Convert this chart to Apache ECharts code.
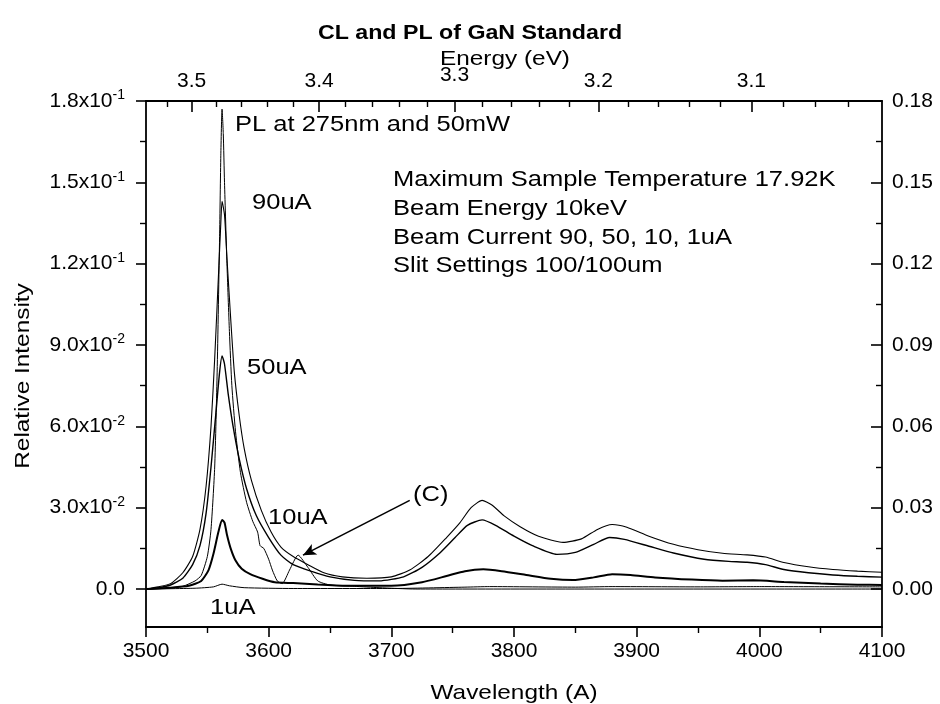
<!DOCTYPE html>
<html>
<head>
<meta charset="utf-8">
<script src="https://cdn.jsdelivr.net/npm/echarts@6/dist/echarts.min.js"></script>
<style>
  html, body { margin: 0; padding: 0; background: #fff; }
  #main { width: 940px; height: 704px; }
</style>
</head>
<body>
<div id="main"></div>
<script>
var chartDom = document.getElementById('main');
var myChart = echarts.init(chartDom);
var option;

// ---- data: [wavelength (A), relative intensity] ----
var pl = [[3500,0],[3520,0.0005],[3530,0.001],[3540,0.003],[3545,0.005],[3550,0.012],[3553,0.022],
  [3556,0.045],[3558,0.08],[3560,0.13],[3561,0.16],[3562,0.177],[3563,0.168],[3564,0.15],[3566,0.12],
  [3568,0.095],[3570,0.075],[3573,0.058],[3577,0.043],[3582,0.032],[3587,0.025],[3591,0.021],[3593,0.016],
  [3596,0.015],[3600,0.011],[3603,0.007],[3607,0.003],[3611,0.002],[3617,0.007],[3624,0.0125],[3632,0.008],
  [3640,0.003],[3650,0.0015],[3670,0.001],[3690,0.0005],[3720,0],[4100,0]];

var cl90 = [[3500,0],[3510,0.0008],[3520,0.002],[3530,0.006],[3538,0.012],[3544,0.022],[3549,0.038],
  [3553,0.06],[3556,0.085],[3559,0.115],[3561,0.135],[3562,0.143],[3564,0.138],[3566,0.122],[3569,0.1],
  [3572,0.08],[3576,0.064],[3580,0.052],[3586,0.04],[3594,0.029],[3602,0.021],[3610,0.0155],[3620,0.012],
  [3632,0.009],[3645,0.006],[3660,0.0045],[3680,0.004],[3700,0.0045],[3715,0.007],[3730,0.012],[3745,0.019],
  [3756,0.0245],[3765,0.03],[3774,0.0327],[3782,0.031],[3792,0.027],[3805,0.023],[3820,0.0195],[3840,0.0172],
  [3855,0.0185],[3868,0.022],[3880,0.0238],[3892,0.0228],[3910,0.0195],[3930,0.0165],[3950,0.0145],
  [3970,0.0132],[3990,0.0126],[4005,0.0118],[4020,0.0098],[4040,0.0082],[4060,0.0072],[4080,0.0066],[4100,0.0062]];

var cl50 = [[3500,0],[3510,0.0005],[3520,0.0015],[3530,0.004],[3538,0.009],[3544,0.016],[3549,0.028],
  [3553,0.045],[3557,0.065],[3560,0.08],[3562,0.086],[3564,0.083],[3567,0.072],[3571,0.06],[3576,0.048],
  [3582,0.037],[3590,0.027],[3600,0.019],[3610,0.0125],[3620,0.009],[3635,0.0065],[3650,0.0045],[3670,0.0032],
  [3690,0.003],[3710,0.0045],[3725,0.008],[3740,0.0135],[3752,0.019],[3762,0.0235],[3774,0.0255],[3785,0.0235],
  [3800,0.0195],[3815,0.016],[3835,0.0128],[3850,0.0135],[3865,0.0165],[3878,0.019],[3890,0.0183],[3910,0.0158],
  [3930,0.0133],[3955,0.011],[3975,0.0102],[3990,0.0099],[4005,0.009],[4020,0.0072],[4040,0.006],[4060,0.0052],
  [4080,0.0047],[4100,0.0044]];

var cl10 = [[3500,0],[3520,0.0005],[3535,0.0012],[3545,0.003],[3551,0.007],[3555,0.013],[3559,0.021],
  [3562,0.0255],[3564,0.0245],[3566,0.02],[3569,0.015],[3573,0.0105],[3578,0.0075],[3585,0.0055],[3595,0.0038],
  [3605,0.0025],[3620,0.0022],[3640,0.0017],[3665,0.0012],[3700,0.0012],[3725,0.0025],[3745,0.0048],[3760,0.0066],
  [3775,0.0073],[3790,0.0066],[3810,0.0052],[3830,0.0038],[3848,0.0033],[3865,0.0043],[3880,0.0055],[3895,0.0052],
  [3915,0.0043],[3945,0.0035],[3970,0.0031],[3995,0.0032],[4020,0.0026],[4050,0.002],[4080,0.0016],[4100,0.0015]];

var cl1 = [[3500,0],[3540,0.0003],[3555,0.0008],[3562,0.0018],[3568,0.0012],[3580,0.0005],[3620,0.0002],
  [3700,0.0002],[3760,0.0007],[3780,0.0009],[3850,0.0007],[3880,0.0009],[3950,0.0008],[4000,0.0009],[4100,0.0008]];

// ---- ticks ----
var yMajor = [0, 0.03, 0.06, 0.09, 0.12, 0.15, 0.18];
var yMinor = [0.015, 0.045, 0.075, 0.105, 0.135, 0.165];
var leftMant = ['0.0', '3.0', '6.0', '9.0', '1.2', '1.5', '1.8'];
var leftExp = ['', '-2', '-2', '-2', '-1', '-1', '-1'];
var rightLabels = ['0.00', '0.03', '0.06', '0.09', '0.12', '0.15', '0.18'];
var eMajor = [3.5, 3.4, 3.3, 3.2, 3.1];
var eMinor = [3.54, 3.52, 3.48, 3.46, 3.44, 3.42, 3.38, 3.36, 3.34, 3.32, 3.28, 3.26, 3.24, 3.22,
  3.18, 3.16, 3.14, 3.12, 3.08, 3.06, 3.04];
var HC = 12380; // eV*A, as the original top axis is laid out

var FONT = 'Liberation Sans, Arial, sans-serif';
var black = '#000';
var WIDE = 1.16; // the scanned lettering is wider than plain Arial

function eToL(e) { return HC / e; }

function idxOf(arr, v) {
  for (var i = 0; i < arr.length; i++) { if (Math.abs(arr[i] - v) < 1e-6) return i; }
  return -1;
}

var yBase = { type: 'value', min: -0.014, max: 0.18, splitLine: { show: false } };
var frame = { show: true, onZero: false, lineStyle: { color: black, width: 1.8 } };

function note(x, y, text, font, align, rot) {
  return { type: 'text', x: x, y: y, scaleX: WIDE, rotation: rot || 0,
    style: { text: text, font: font, fill: black, align: align || 'left', verticalAlign: 'middle' } };
}

option = {
  animation: false,
  backgroundColor: '#fff',
  grid: { left: 146, right: 58, top: 101, bottom: 77 },
  xAxis: [
    {
      type: 'value', min: 3500, max: 4100, interval: 100, position: 'bottom',
      axisLine: frame,
      axisTick: { show: true, inside: false, length: 10, lineStyle: { color: black, width: 1.6 } },
      minorTick: { show: true, splitNumber: 2, length: 6, lineStyle: { color: black, width: 1.4 } },
      axisLabel: { fontFamily: FONT, fontSize: 21, color: black, margin: 14,
        formatter: function (v) { return String(v); } },
      splitLine: { show: false }
    },
    {
      type: 'value', min: 3500, max: 4100, position: 'top',
      axisLine: frame,
      axisTick: { show: true, inside: true, length: 11, customValues: eMajor.map(eToL),
        lineStyle: { color: black, width: 1.6 } },
      axisLabel: {
        color: black, margin: 9,
        customValues: eMajor.map(eToL),
        formatter: function (v) {
          var s = (HC / v).toFixed(1);
          return s === '3.3' ? '{up|' + s + '}' : '{n|' + s + '}';
        },
        rich: {
          n: { fontFamily: FONT, fontSize: 21, color: black },
          up: { fontFamily: FONT, fontSize: 21, color: black, padding: [0, 0, 6, 0] }
        }
      },
      splitLine: { show: false }
    },
    {
      type: 'value', min: 3500, max: 4100, position: 'top',
      axisLine: { show: false, onZero: false },
      axisTick: { show: true, inside: true, length: 6, customValues: eMinor.map(eToL),
        lineStyle: { color: black, width: 1.4 } },
      axisLabel: { show: false },
      splitLine: { show: false }
    }
  ],
  yAxis: [
    Object.assign({}, yBase, {
      position: 'left',
      axisLine: frame,
      axisTick: { show: true, inside: false, length: 10, customValues: yMajor,
        lineStyle: { color: black, width: 1.6 } },
      axisLabel: {
        customValues: yMajor, margin: 21,
        formatter: function (v) {
          var i = idxOf(yMajor, v);
          if (i < 0) return '';
          return leftExp[i] ? '{a|' + leftMant[i] + 'x10}{s|' + leftExp[i] + '}' : '{a|' + leftMant[i] + '}';
        },
        rich: {
          a: { fontFamily: FONT, fontSize: 21, color: black },
          s: { fontFamily: FONT, fontSize: 14, color: black, verticalAlign: 'top', padding: [0, 0, 11, 0] }
        }
      }
    }),
    Object.assign({}, yBase, {
      position: 'left',
      axisLine: { show: false, onZero: false },
      axisTick: { show: true, inside: false, length: 6, customValues: yMinor,
        lineStyle: { color: black, width: 1.4 } },
      axisLabel: { show: false }
    }),
    Object.assign({}, yBase, {
      position: 'right',
      axisLine: frame,
      axisTick: { show: true, inside: true, length: 11, customValues: yMajor,
        lineStyle: { color: black, width: 1.6 } },
      axisLabel: {
        customValues: yMajor, margin: 10, fontFamily: FONT, fontSize: 21, color: black,
        formatter: function (v) { var i = idxOf(yMajor, v); return i < 0 ? '' : rightLabels[i]; }
      }
    }),
    Object.assign({}, yBase, {
      position: 'right',
      axisLine: { show: false, onZero: false },
      axisTick: { show: true, inside: true, length: 6, customValues: yMinor,
        lineStyle: { color: black, width: 1.4 } },
      axisLabel: { show: false }
    })
  ],
  series: [
    { name: 'PL', type: 'line', data: pl, showSymbol: false, smooth: 0.2,
      lineStyle: { color: black, width: 1 },
      markLine: {
        silent: true, symbol: ['none', 'arrow'], symbolSize: [9, 13],
        label: { show: false },
        lineStyle: { color: black, width: 1.6, type: 'solid' },
        data: [[{ coord: [3715, 0.0327] }, { coord: [3628, 0.0125] }]]
      }
    },
    { name: '90uA', type: 'line', data: cl90, showSymbol: false, smooth: 0.2,
      lineStyle: { color: black, width: 1.1 } },
    { name: '50uA', type: 'line', data: cl50, showSymbol: false, smooth: 0.2,
      lineStyle: { color: black, width: 1.4 } },
    { name: '10uA', type: 'line', data: cl10, showSymbol: false, smooth: 0.2,
      lineStyle: { color: black, width: 2 } },
    { name: '1uA', type: 'line', data: cl1, showSymbol: false, smooth: 0.2,
      lineStyle: { color: black, width: 1 } }
  ],
  graphic: [
    note(470, 33, 'CL and PL of GaN Standard', 'bold 20px ' + FONT, 'center'),
    note(505, 59, 'Energy (eV)', '21px ' + FONT, 'center'),
    note(514, 693, 'Wavelength (A)', '21px ' + FONT, 'center'),
    note(23, 376, 'Relative Intensity', '21px ' + FONT, 'center', Math.PI / 2),
    note(235, 125, 'PL at 275nm and 50mW', '22px ' + FONT),
    note(252, 203, '90uA', '22px ' + FONT),
    note(247, 368, '50uA', '22px ' + FONT),
    note(268, 518, '10uA', '22px ' + FONT),
    note(413, 495, '(C)', '22px ' + FONT),
    note(210, 608, '1uA', '22px ' + FONT),
    note(393, 180, 'Maximum Sample Temperature 17.92K', '22px ' + FONT),
    note(393, 209, 'Beam Energy 10keV', '22px ' + FONT),
    note(393, 238, 'Beam Current 90, 50, 10, 1uA', '22px ' + FONT),
    note(393, 266, 'Slit Settings 100/100um', '22px ' + FONT)
  ]
};
option && myChart.setOption(option);
</script>
</body>
</html>
